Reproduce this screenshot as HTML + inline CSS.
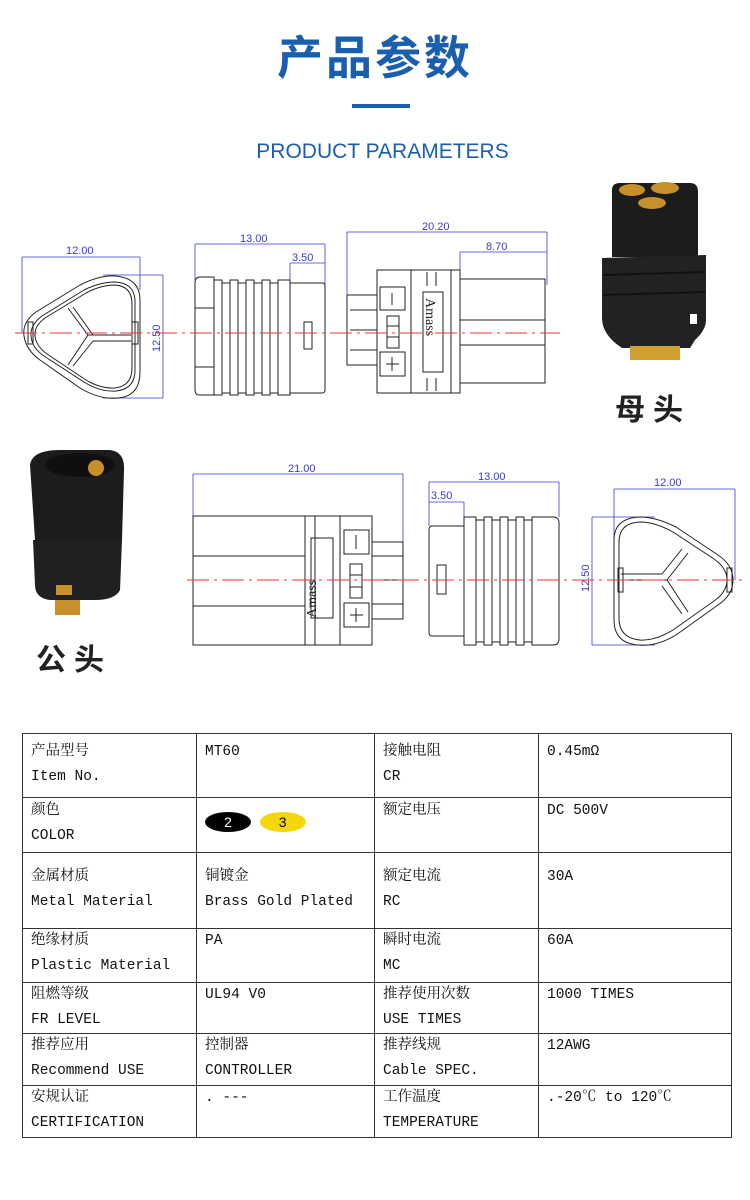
<!DOCTYPE html>
<html><head><meta charset="utf-8"><style>
body{margin:0;background:#fff;width:750px;height:1200px;overflow:hidden;position:relative;font-family:"Liberation Sans","Noto Sans CJK SC",sans-serif}
.t{position:absolute}
table{position:absolute;left:22px;top:733px;border-collapse:collapse;width:710px;table-layout:fixed}
td{border:1.5px solid #333;vertical-align:top;padding:0 0 0 8px;font-family:"Liberation Mono","Noto Serif CJK SC",monospace;font-size:14.5px;line-height:25px;color:#111;overflow:hidden}
</style></head><body>
<div class="t" style="left:0;width:750px;top:22px;text-align:center;font-size:46px;font-weight:bold;color:#1a5fae;letter-spacing:3px">产品参数</div>
<div class="t" style="left:352px;top:104px;width:58px;height:4px;background:#1a5fae"></div>
<div class="t" style="left:0;width:765px;top:140px;text-align:center;font-size:21px;color:#1a5fae">PRODUCT PARAMETERS</div>
<svg class="t" style="left:0;top:0" width="750" height="720" viewBox="0 0 750 720" fill="none" stroke="#222" stroke-width="1">
<g stroke="#3a3ad0" stroke-width="0.8" font-family="Liberation Sans" font-size="11">
<line x1="22" y1="257" x2="140" y2="257"/><line x1="22" y1="257" x2="22" y2="333"/><line x1="140" y1="257" x2="140" y2="290"/>
<line x1="103" y1="275" x2="163" y2="275"/><line x1="103" y1="398" x2="163" y2="398"/><line x1="163" y1="275" x2="163" y2="398"/>
<line x1="195" y1="244" x2="325" y2="244"/><line x1="195" y1="244" x2="195" y2="280"/><line x1="325" y1="244" x2="325" y2="285"/>
<line x1="290" y1="263" x2="325" y2="263"/><line x1="290" y1="263" x2="290" y2="283"/>
<line x1="347" y1="232" x2="547" y2="232"/><line x1="347" y1="232" x2="347" y2="295"/><line x1="547" y1="232" x2="547" y2="285"/>
<line x1="460" y1="252" x2="547" y2="252"/><line x1="460" y1="252" x2="460" y2="279"/>
<line x1="193" y1="474" x2="403" y2="474"/><line x1="193" y1="474" x2="193" y2="516"/><line x1="403" y1="474" x2="403" y2="542"/>
<line x1="429" y1="482" x2="559" y2="482"/><line x1="429" y1="482" x2="429" y2="526"/><line x1="559" y1="482" x2="559" y2="517"/>
<line x1="429" y1="502" x2="464" y2="502"/><line x1="464" y1="502" x2="464" y2="517"/>
<line x1="614" y1="489" x2="735" y2="489"/><line x1="614" y1="489" x2="614" y2="580"/><line x1="735" y1="489" x2="735" y2="580"/>
<line x1="592" y1="517" x2="655" y2="517"/><line x1="592" y1="645" x2="655" y2="645"/><line x1="592" y1="517" x2="592" y2="645"/>
<g fill="#3a3ad0" stroke="none">
<text x="66" y="254">12.00</text><text x="240" y="242">13.00</text><text x="292" y="261">3.50</text><text x="422" y="230">20.20</text><text x="486" y="250">8.70</text>
<text x="288" y="472">21.00</text><text x="478" y="480">13.00</text><text x="431" y="499">3.50</text><text x="654" y="486">12.00</text>
<text transform="translate(160,352) rotate(-90)">12.50</text><text transform="translate(589,592) rotate(-90)">12.50</text>
</g></g>
<path d="M140 300 Q140 278 115 276 Q100 275 80 285 L36 312 Q22 322 24 336 Q26 350 40 360 L80 388 Q100 400 118 398 Q140 396 140 372 Z"/>
<path d="M135 302 Q135 283 115 282 Q100 282 84 290 L42 316 Q30 325 31 336 Q32 348 44 356 L84 382 Q100 392 116 391 Q135 389 135 370 Z"/>
<path d="M132 304 Q132 286 115 285 Q101 285 86 293 L45 318 Q34 326 35 336 Q36 346 47 354 L86 380 Q101 389 115 388 Q132 386 132 368 Z"/>
<line x1="88" y1="335" x2="68" y2="308"/><line x1="88" y1="335" x2="68" y2="365"/><line x1="88" y1="335" x2="131" y2="335"/>
<line x1="93" y1="335" x2="73" y2="307"/><line x1="93" y1="341" x2="73" y2="366"/><line x1="93" y1="341" x2="131" y2="341"/>
<rect x="28" y="322" width="5" height="22"/><rect x="132" y="322" width="6" height="22"/>
<path d="M200 277 L214 277 L214 395 L200 395 Q195 395 195 390 L195 283 Q195 277 200 277Z"/>
<line x1="195" y1="308" x2="214" y2="308"/><line x1="195" y1="367" x2="214" y2="367"/>
<g><rect x="214" y="280" width="8" height="115"/><rect x="222" y="283" width="8" height="110"/><rect x="230" y="280" width="8" height="115"/><rect x="238" y="283" width="8" height="110"/><rect x="246" y="280" width="8" height="115"/><rect x="254" y="283" width="8" height="110"/><rect x="262" y="280" width="8" height="115"/><rect x="270" y="283" width="8" height="110"/><rect x="278" y="280" width="12" height="115"/></g>
<path d="M290 283 L323 283 Q325 283 325 287 L325 390 Q325 393 322 393 L290 393"/>
<rect x="304" y="322" width="8" height="27"/>
<rect x="347" y="295" width="30" height="70"/><line x1="350" y1="310" x2="377" y2="310"/><line x1="350" y1="330" x2="377" y2="330"/><line x1="350" y1="350" x2="377" y2="350"/>
<rect x="377" y="270" width="34" height="123"/><rect x="380" y="287" width="25" height="23"/><line x1="392" y1="293" x2="392" y2="305"/>
<rect x="387" y="316" width="12" height="32"/><line x1="387" y1="326" x2="399" y2="326"/><line x1="387" y1="337" x2="399" y2="337"/>
<rect x="380" y="352" width="25" height="24"/><line x1="386" y1="364" x2="399" y2="364"/><line x1="392" y1="357" x2="392" y2="371"/>
<rect x="411" y="270" width="40" height="123"/><rect x="423" y="292" width="20" height="80"/>
<line x1="427" y1="272" x2="427" y2="286"/><line x1="436" y1="272" x2="436" y2="286"/><line x1="427" y1="378" x2="427" y2="391"/><line x1="436" y1="378" x2="436" y2="391"/>
<rect x="451" y="270" width="9" height="123"/>
<rect x="460" y="279" width="85" height="104"/><line x1="460" y1="320" x2="545" y2="320"/><line x1="460" y1="345" x2="545" y2="345"/>
<text transform="translate(426,298) rotate(90)" font-family="Liberation Serif" font-size="14" fill="#222" stroke="none">Amass</text>
<rect x="193" y="516" width="112" height="129"/><line x1="193" y1="556" x2="305" y2="556"/><line x1="193" y1="606" x2="305" y2="606"/>
<rect x="305" y="516" width="10" height="129"/><rect x="315" y="516" width="25" height="129"/><rect x="311" y="538" width="22" height="80"/>
<rect x="340" y="516" width="32" height="129"/><rect x="344" y="530" width="25" height="24"/><line x1="356" y1="535" x2="356" y2="549"/>
<rect x="350" y="564" width="12" height="34"/><line x1="350" y1="575" x2="362" y2="575"/><line x1="350" y1="587" x2="362" y2="587"/>
<rect x="344" y="603" width="25" height="24"/><line x1="350" y1="615" x2="363" y2="615"/><line x1="356" y1="608" x2="356" y2="622"/>
<rect x="372" y="542" width="31" height="77"/><line x1="372" y1="556" x2="403" y2="556"/><line x1="372" y1="580" x2="403" y2="580"/><line x1="372" y1="604" x2="403" y2="604"/>
<text transform="translate(316,618) rotate(-90)" font-family="Liberation Serif" font-size="14" fill="#222" stroke="none">Amass</text>
<path d="M464 526 L432 526 Q429 526 429 530 L429 632 Q429 636 432 636 L464 636"/><rect x="437" y="565" width="9" height="29"/>
<g><rect x="464" y="517" width="12" height="128"/><rect x="476" y="520" width="8" height="122"/><rect x="484" y="517" width="8" height="128"/><rect x="492" y="520" width="8" height="122"/><rect x="500" y="517" width="8" height="128"/><rect x="508" y="520" width="8" height="122"/><rect x="516" y="517" width="8" height="128"/><rect x="524" y="520" width="8" height="122"/></g>
<path d="M532 517 L553 517 Q559 517 559 523 L559 639 Q559 645 553 645 L532 645Z"/>
<path d="M614 540 Q614 518 640 517 Q656 517 676 527 L718 555 Q733 565 733 580 Q733 595 718 605 L676 635 Q656 647 638 645 Q614 643 614 620 Z"/>
<path d="M619 542 Q619 523 640 522 Q655 522 673 532 L714 559 Q727 568 727 580 Q727 592 714 601 L673 630 Q655 641 640 640 Q619 638 619 618 Z"/>
<line x1="667" y1="580" x2="688" y2="553"/><line x1="667" y1="580" x2="688" y2="612"/><line x1="667" y1="580" x2="621" y2="580"/>
<line x1="662" y1="574" x2="682" y2="549"/><line x1="662" y1="586" x2="682" y2="614"/><line x1="662" y1="574" x2="621" y2="574"/>
<rect x="618" y="568" width="5" height="24"/><rect x="727" y="568" width="5" height="24"/>
<g stroke="#e33" stroke-width="0.9" stroke-dasharray="22 5 3 5">
<line x1="15" y1="333" x2="560" y2="333"/><line x1="187" y1="580" x2="745" y2="580"/></g>
<path d="M612 190 Q612 183 620 183 L690 183 Q698 183 698 192 L698 257 L612 257Z" fill="#1c1c1c" stroke="none"/>
<path d="M602 258 L706 255 L706 320 Q706 330 695 340 L690 348 L622 348 Q602 335 602 318Z" fill="#222" stroke="none"/>
<line x1="603" y1="275" x2="705" y2="272" stroke="#111" stroke-width="2"/><line x1="603" y1="295" x2="705" y2="292" stroke="#111" stroke-width="2"/>
<ellipse cx="632" cy="190" rx="13" ry="6" fill="#c8902a" stroke="none"/><ellipse cx="665" cy="188" rx="14" ry="6" fill="#c8902a" stroke="none"/><ellipse cx="652" cy="203" rx="14" ry="6" fill="#c8902a" stroke="none"/>
<rect x="690" y="314" width="7" height="10" fill="#fff" stroke="none"/>
<rect x="630" y="346" width="50" height="14" fill="#d0a030" stroke="none"/>
<path d="M30 465 Q32 450 60 450 L110 450 Q125 452 124 470 L122 540 L35 540 Z" fill="#1c1c1c" stroke="none"/>
<path d="M33 540 L122 540 L120 590 Q115 600 95 600 L50 600 Q35 598 35 585Z" fill="#202020" stroke="none"/>
<ellipse cx="80" cy="465" rx="35" ry="12" fill="#0f0f0f" stroke="none"/><circle cx="96" cy="468" r="8" fill="#c8902a" stroke="none"/>
<rect x="56" y="585" width="16" height="10" fill="#c8902a" stroke="none"/><rect x="55" y="600" width="25" height="15" fill="#c8902a" stroke="none"/>
</svg>
<div class="t" style="left:615px;top:385px;font-size:30px;font-weight:bold;letter-spacing:8px;color:#222">母头</div>
<div class="t" style="left:36px;top:635px;font-size:30px;font-weight:bold;letter-spacing:8px;color:#222">公头</div>
<table>
<colgroup><col style="width:174px"><col style="width:178px"><col style="width:164px"><col></colgroup>
<tr style="height:64px"><td style="padding-top:6px">产品型号<br>Item No.</td><td style="padding-top:6px">MT60</td><td style="padding-top:6px">接触电阻<br>CR</td><td style="padding-top:6px">0.45mΩ</td></tr>
<tr style="height:55px"><td style="padding-top:1px">颜色<br>COLOR</td><td style="padding-top:14px"><span style="display:inline-block;width:46px;height:20px;border-radius:50%;background:#000;color:#fff;text-align:center;line-height:20px;font-family:'Liberation Sans';font-size:14px">2</span> <span style="display:inline-block;width:46px;height:20px;border-radius:50%;background:#f5d60a;color:#000;text-align:center;line-height:20px;font-family:'Liberation Sans';font-size:14px">3</span></td><td style="padding-top:1px">额定电压</td><td style="padding-top:1px">DC 500V</td></tr>
<tr style="height:76px"><td style="padding-top:12px">金属材质<br>Metal Material</td><td style="padding-top:12px">铜镀金<br>Brass Gold Plated</td><td style="padding-top:12px">额定电流<br>RC</td><td style="padding-top:12px">30A</td></tr>
<tr style="height:54px"><td>绝缘材质<br>Plastic Material</td><td>PA</td><td>瞬时电流<br>MC</td><td>60A</td></tr>
<tr style="height:51px"><td>阻燃等级<br>FR LEVEL</td><td>UL94 V0</td><td>推荐使用次数<br>USE TIMES</td><td>1000 TIMES</td></tr>
<tr style="height:52px"><td>推荐应用<br>Recommend USE</td><td>控制器<br>CONTROLLER</td><td>推荐线规<br>Cable SPEC.</td><td>12AWG</td></tr>
<tr style="height:52px"><td>安规认证<br>CERTIFICATION</td><td>. ---</td><td>工作温度<br>TEMPERATURE</td><td>.-20℃ to 120℃</td></tr>
</table>
</body></html>
